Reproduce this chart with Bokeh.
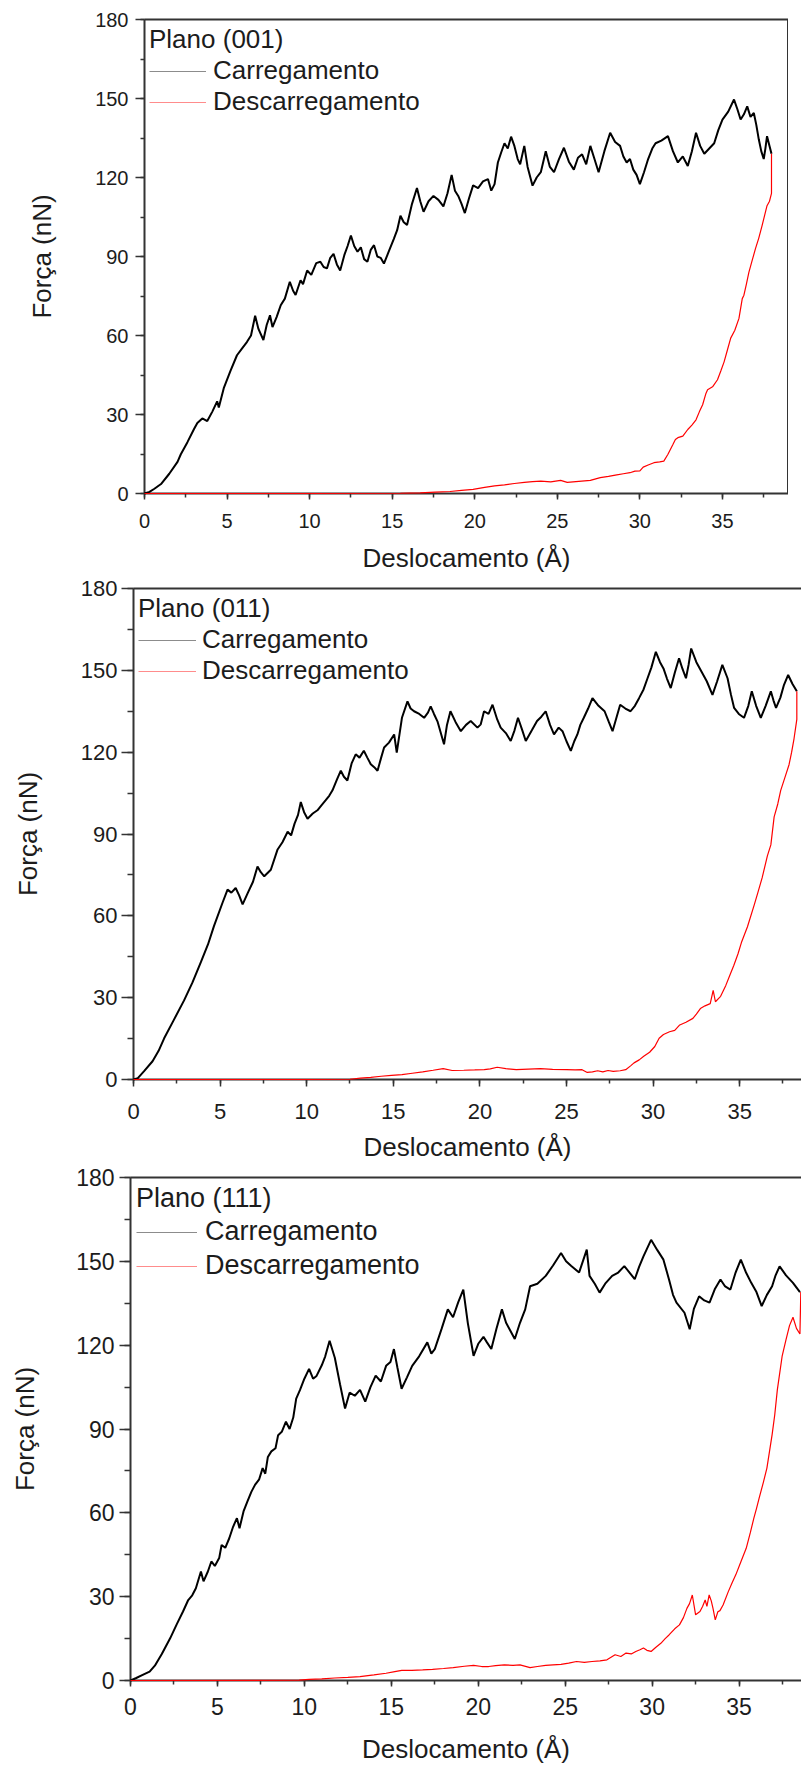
from bokeh.plotting import figure
from bokeh.models import (Legend, LegendItem, LinearAxis, SingleIntervalTicker,
                          FixedTicker, Range1d, Spacer)
from bokeh.layouts import column, row
from bokeh.embed import file_html
from bokeh.resources import INLINE

# ---------------- data: Plano (001) ----------------
x_load_001 = [0.0,0.3,0.6,1.0,1.5,2.0,2.2,2.6,3.0,3.2,
              3.5,3.8,4.1,4.4,4.5,4.8,5.2,5.6,5.9,6.2,
              6.45,6.7,6.9,7.2,7.4,7.6,7.75,8.0,8.25,8.5,
              8.8,9.0,9.15,9.45,9.6,9.85,10.1,10.4,10.65,10.85,
              11.05,11.25,11.45,11.65,11.85,12.1,12.3,12.5,12.7,12.9,
              13.1,13.3,13.5,13.7,13.9,14.1,14.3,14.5,14.8,15.1,
              15.3,15.5,15.7,15.9,16.2,16.5,16.7,16.9,17.2,17.5,
              17.8,18.1,18.35,18.6,18.8,19.0,19.2,19.4,19.65,19.9,
              20.2,20.5,20.8,21.0,21.2,21.4,21.6,21.8,22.0,22.2,
              22.4,22.6,22.75,23.0,23.2,23.5,23.75,24.0,24.3,24.55,
              24.8,25.1,25.4,25.7,26.0,26.25,26.5,26.75,27.0,27.25,
              27.5,27.85,28.2,28.5,28.8,29.0,29.2,29.4,29.6,29.8,
              30.0,30.25,30.5,30.75,30.95,31.3,31.7,32.0,32.3,32.6,
              32.9,33.15,33.4,33.65,33.9,34.2,34.5,34.75,35.0,35.35,
              35.7,35.9,36.1,36.3,36.5,36.7,36.9,37.05,37.2,37.35,
              37.5,37.6,37.7,37.85,37.97]
y_load_001 = [0.0,0.6,1.8,3.6,7.5,12.0,14.9,19.5,24.5,26.8,
              28.5,27.5,31.0,35.0,32.7,40.0,46.5,52.5,55.0,57.5,
              60.0,67.5,62.5,58.3,64.0,67.7,63.2,67.0,71.5,74.0,
              80.4,77.0,75.4,81.0,79.5,84.7,83.0,87.5,88.0,86.0,
              85.5,89.5,91.0,87.0,84.7,90.5,94.0,98.0,94.0,91.8,
              93.5,89.0,88.0,92.5,94.3,90.0,89.5,87.3,92.0,96.7,
              100.0,105.5,103.0,102.0,110.0,116.0,111.0,107.0,111.0,113.0,
              111.5,109.0,114.0,121.0,115.0,113.0,110.0,106.5,112.0,117.0,
              116.0,118.5,119.4,115.0,117.5,125.7,129.5,133.0,131.0,135.5,
              132.0,127.0,125.0,132.0,124.0,116.9,120.0,122.0,130.0,124.0,
              122.0,127.0,131.3,126.0,123.0,127.5,128.8,125.0,132.0,127.0,
              122.0,130.0,137.0,133.5,132.0,128.0,125.7,127.0,123.0,121.0,
              117.5,122.0,127.0,131.0,133.0,134.0,135.7,130.0,125.7,128.0,
              124.4,130.0,137.0,132.0,129.0,131.0,133.0,138.0,142.0,145.0,
              149.6,146.0,142.0,144.0,147.0,143.0,144.5,140.0,134.5,130.0,
              127.0,131.0,135.7,132.0,129.0]
x_unload_001 = [0.0,10.0,15.5,16.7,17.6,18.5,19.2,19.9,20.6,21.2,
                21.8,22.4,23.0,23.5,24.0,24.6,25.2,25.6,26.3,27.0,
                27.6,28.1,28.6,29.0,29.4,29.7,30.0,30.2,30.5,30.85,
                31.2,31.45,31.7,32.0,32.15,32.3,32.6,32.9,33.15,33.4,
                33.6,33.8,34.0,34.1,34.4,34.7,34.9,35.1,35.3,35.5,
                35.75,36.0,36.2,36.3,36.45,36.6,36.8,37.0,37.2,37.4,
                37.55,37.7,37.85,37.97,37.97]
y_unload_001 = [0.0,0.0,0.1,0.25,0.5,0.75,1.2,1.6,2.3,2.9,
                3.3,3.8,4.2,4.5,4.7,4.4,5.0,4.2,4.6,5.0,
                6.0,6.5,7.1,7.5,7.9,8.5,8.6,10.0,10.8,11.7,
                12.0,12.3,14.9,18.6,20.5,21.2,21.8,24.3,26.0,28.0,
                31.0,33.7,38.0,39.4,40.5,43.2,46.5,50.0,54.5,59.0,
                62.0,66.5,74.0,75.3,79.5,84.0,88.5,93.0,97.0,101.7,
                105.5,109.3,111.0,114.0,129.0]

# ---------------- data: Plano (011) ----------------
x_load_011 = [0.0,0.25,0.6,1.1,1.45,1.77,2.3,2.92,3.4,3.89,
              4.3,4.65,5.14,5.43,5.65,5.9,6.1,6.3,6.6,6.9,
              7.16,7.35,7.55,7.93,8.31,8.6,8.9,9.1,9.3,9.5,
              9.66,9.85,10.05,10.35,10.62,10.85,11.1,11.3,11.49,11.75,
              11.97,12.15,12.35,12.6,12.83,13.05,13.3,13.5,13.7,13.9,
              14.09,14.3,14.47,14.75,15.05,15.2,15.5,15.82,16.0,16.2,
              16.5,16.78,17.0,17.16,17.35,17.55,17.93,18.1,18.3,18.6,
              18.9,19.2,19.47,19.86,20.05,20.24,20.5,20.73,21.0,21.2,
              21.5,21.78,22.0,22.2,22.45,22.65,23.0,23.3,23.55,23.8,
              24.05,24.28,24.55,24.77,25.0,25.25,25.45,25.63,25.8,26.0,
              26.25,26.5,26.85,27.2,27.45,27.66,27.9,28.1,28.4,28.7,
              28.95,29.19,29.45,29.68,29.9,30.16,30.4,30.6,30.8,31.02,
              31.25,31.5,31.7,31.9,32.05,32.2,32.5,32.8,33.1,33.43,
              33.7,34.0,34.3,34.5,34.68,34.95,35.25,35.5,35.7,35.95,
              36.22,36.5,36.8,36.95,37.1,37.35,37.56,37.8,38.05,38.3]
y_load_011 = [0.0,0.5,3.0,6.7,10.5,15.1,21.5,29.0,35.5,43.0,
              49.5,56.3,64.8,69.6,68.5,70.2,67.5,64.2,68.4,72.5,
              78.1,76.0,74.5,76.9,84.2,87.0,90.8,89.5,93.8,97.0,
              101.7,98.0,95.6,97.5,98.7,100.5,102.4,104.0,106.0,110.0,
              113.2,111.0,109.6,116.0,119.2,118.0,120.5,118.0,115.6,114.5,
              113.2,118.0,121.7,123.5,126.5,119.8,132.6,138.6,136.0,135.0,
              134.0,132.6,134.5,136.8,134.0,131.3,122.9,130.0,135.0,131.0,
              127.7,130.0,131.4,129.0,130.2,135.0,134.0,137.4,132.0,129.0,
              127.0,124.1,128.0,132.6,128.0,124.1,128.0,131.4,133.0,135.0,
              130.0,126.5,129.0,127.7,124.0,120.5,124.0,126.5,130.0,132.6,
              136.0,139.8,137.0,135.0,131.0,127.7,133.0,137.4,136.0,135.0,
              137.0,139.8,143.0,147.1,151.0,156.8,153.0,150.7,147.0,143.5,
              149.0,154.4,150.5,147.1,152.0,158.0,153.0,149.5,146.0,141.0,
              146.0,152.0,147.1,141.0,136.2,134.0,132.6,137.0,142.3,137.0,
              132.6,137.0,142.3,139.0,136.2,140.0,144.7,148.3,145.0,142.3]
x_unload_011 = [0.0,10.0,12.5,13.1,13.7,14.3,14.9,15.5,16.1,16.7,
                17.3,17.88,18.4,19.07,19.7,20.25,20.6,21.0,21.5,22.1,
                22.8,23.5,24.2,25.0,25.5,25.9,26.2,26.5,26.8,27.1,
                27.4,27.7,28.1,28.42,28.7,28.9,29.2,29.46,29.8,30.1,
                30.35,30.6,30.95,31.25,31.54,31.9,32.3,32.5,32.73,33.0,
                33.3,33.47,33.6,33.9,34.2,34.45,34.66,34.9,35.1,35.45,
                35.85,36.05,36.3,36.6,36.8,36.99,37.2,37.37,37.6,37.85,
                38.0,38.14,38.3,38.3]
y_unload_011 = [0.0,0.0,0.1,0.5,0.8,1.2,1.5,1.8,2.3,2.8,
                3.4,4.0,3.3,3.4,3.5,3.6,3.9,4.5,4.0,3.6,
                3.8,4.0,3.7,3.6,3.5,3.6,2.6,2.8,3.2,2.8,
                3.3,3.0,3.2,3.6,5.0,6.1,7.2,8.5,10.0,12.1,
                15.1,16.5,17.5,18.0,20.0,21.0,22.4,24.0,26.0,27.0,
                27.8,32.7,28.5,30.5,34.5,38.5,41.8,46.0,50.2,56.0,
                64.2,68.5,74.0,82.0,86.0,96.3,101.0,106.0,110.5,115.4,
                120.0,125.0,132.0,142.3]

# ---------------- data: Plano (111) ----------------
x_load_111 = [0.0,0.3,0.7,1.1,1.4,1.8,2.28,2.65,3.02,3.32,
              3.55,3.76,4.05,4.2,4.45,4.65,4.85,5.1,5.24,5.45,
              5.68,5.9,6.12,6.27,6.5,6.72,6.95,7.16,7.4,7.6,
              7.75,7.9,8.1,8.34,8.49,8.7,8.94,9.15,9.36,9.53,
              9.75,10.0,10.27,10.5,10.7,11.0,11.2,11.45,11.75,12.05,
              12.34,12.6,12.9,13.2,13.5,13.8,14.1,14.4,14.7,14.95,
              15.15,15.35,15.59,15.9,16.2,16.6,17.07,17.3,17.5,17.9,
              18.25,18.55,18.85,19.14,19.4,19.73,20.0,20.3,20.5,20.75,
              21.05,21.36,21.6,21.8,22.1,22.4,22.7,22.98,23.4,23.88,
              24.3,24.76,25.05,25.35,25.8,26.24,26.4,26.7,26.98,27.3,
              27.7,28.05,28.4,28.7,29.0,29.25,29.5,29.94,30.3,30.65,
              30.97,31.2,31.4,31.86,32.16,32.4,32.7,33.0,33.3,33.6,
              33.93,34.2,34.5,34.8,35.1,35.4,35.7,36.0,36.3,36.6,
              36.9,37.1,37.33,37.7,38.1,38.5]
y_load_111 = [0.0,0.8,2.0,3.2,5.3,9.5,15.1,20.0,24.7,28.8,
              30.5,33.0,39.0,35.5,39.0,42.6,41.0,43.8,48.5,47.5,
              50.9,55.0,58.1,54.5,60.5,64.0,67.5,70.0,72.0,76.0,
              74.0,80.0,82.0,83.1,87.8,89.0,92.6,90.0,94.1,100.9,
              104.0,108.0,111.5,108.0,109.0,112.8,116.0,121.6,115.5,106.0,
              97.3,103.0,101.9,104.0,99.8,105.0,109.1,107.0,112.6,114.0,
              118.6,112.0,104.4,108.5,112.6,116.0,121.0,117.0,118.6,126.0,
              132.8,130.0,135.4,139.9,127.9,116.2,120.5,123.0,121.0,118.6,
              126.0,132.8,128.0,125.7,122.2,128.0,132.8,141.1,142.0,144.8,
              148.5,153.0,150.0,148.3,146.0,154.2,144.8,142.0,138.8,142.0,
              144.8,146.0,148.3,146.0,143.6,148.0,151.8,157.7,154.0,150.6,
              143.5,138.0,135.2,131.6,125.7,133.0,137.5,136.0,135.2,140.0,
              143.5,141.0,139.9,146.0,150.6,146.0,142.3,139.0,134.0,138.0,
              141.1,145.0,148.2,145.0,142.3,139.0]
x_unload_111 = [0.0,9.7,10.27,11.0,11.75,12.5,13.2,14.0,14.7,15.2,
                15.6,16.18,16.8,17.37,18.0,18.56,19.2,19.73,20.2,20.6,
                21.0,21.5,22.0,22.4,22.98,23.4,23.88,24.3,24.76,25.2,
                25.65,26.1,26.54,27.0,27.4,27.87,28.2,28.5,28.8,29.06,
                29.3,29.5,29.7,29.94,30.2,30.5,30.75,30.97,31.3,31.57,
                31.8,32.0,32.15,32.31,32.5,32.75,32.9,33.05,33.15,33.28,
                33.4,33.5,33.63,33.78,33.9,34.08,34.38,34.6,34.81,35.11,
                35.41,35.65,35.85,36.0,36.15,36.4,36.6,36.75,36.9,37.05,
                37.2,37.48,37.7,37.9,38.1,38.3,38.5,38.55]
y_unload_111 = [0.0,0.1,0.4,0.6,0.9,1.1,1.4,2.0,2.6,3.2,
                3.6,3.6,3.8,4.0,4.3,4.6,5.1,5.4,5.0,5.0,
                5.3,5.6,5.4,5.6,4.6,5.0,5.4,5.6,5.8,6.2,
                6.8,6.5,6.8,7.0,7.4,9.2,8.6,9.8,9.5,10.4,
                11.0,11.6,10.8,10.4,11.8,13.3,15.0,16.3,18.5,19.9,
                22.5,25.8,27.5,30.6,23.5,24.7,26.5,28.8,26.5,30.6,
                28.5,25.8,21.7,24.6,25.0,27.0,31.8,35.0,37.8,42.6,
                47.3,53.0,58.1,61.5,65.2,71.0,76.0,82.0,88.0,95.0,
                104.0,116.2,122.0,127.0,130.0,126.0,124.0,139.0]

plane_titles = ["Plano (001)", "Plano (011)", "Plano (111)"]
series_labels = ["Carregamento", "Descarregamento"]
x_label = "Deslocamento (Å)"
y_label = "Força (nN)"
y_ticks_interval = 30
x_ticks_interval = 5

FONT = "Liberation Sans"
TXT = "#1c1c1c"
AX = "#333333"

panels = [
    dict(title=plane_titles[0], xc=x_load_001, yc=y_load_001, xd=x_unload_001, yd=y_unload_001,
         lead=14, w=774, h=575, bt=19, bb=79, xmax=39.0, right_border=True,
         tick_fs="20px", lab_fs="26px", leg_fs="26px",
         ymaj=9, ymin=4, ystand=7, xmaj=6, xmin=4, xstand=14,
         ylab_stand=35, xlab_stand=12,
         leg_margin=5, glyph_w=57, leg_stand=7, leg_sp=-5, title_sp=-3),
    dict(title=plane_titles[1], xc=x_load_011, yc=y_load_011, xd=x_unload_011, yd=y_unload_011,
         lead=3, w=798, h=589, bt=13, bb=79, xmax=38.57, right_border=False,
         tick_fs="22px", lab_fs="26px", leg_fs="26px",
         ymaj=12, ymin=6, ystand=4, xmaj=7, xmin=4, xstand=17,
         ylab_stand=35, xlab_stand=10,
         leg_margin=5, glyph_w=58, leg_stand=6, leg_sp=-1, title_sp=0),
    dict(title=plane_titles[2], xc=x_load_111, yc=y_load_111, xd=x_unload_111, yd=y_unload_111,
         lead=0, w=801, h=602, bt=13, bb=82, xmax=38.59, right_border=False,
         tick_fs="23px", lab_fs="26px", leg_fs="27px",
         ymaj=11, ymin=6, ystand=5, xmaj=6, xmin=4, xstand=11,
         ylab_stand=33, xlab_stand=16,
         leg_margin=6, glyph_w=61, leg_stand=8, leg_sp=3, title_sp=2),
]


def style_axis(ax, maj, mn, stand, fs, lab_fs, lab_stand):
    ax.axis_line_color = AX
    ax.axis_line_width = 2
    ax.major_tick_line_color = AX
    ax.major_tick_line_width = 1.5
    ax.minor_tick_line_color = AX
    ax.minor_tick_line_width = 1.5
    ax.major_tick_in = 0
    ax.major_tick_out = maj
    ax.minor_tick_in = 0
    ax.minor_tick_out = mn
    ax.major_label_standoff = stand
    ax.major_label_text_font = FONT
    ax.major_label_text_font_size = fs
    ax.major_label_text_color = TXT
    ax.axis_label_text_font = FONT
    ax.axis_label_text_font_size = lab_fs
    ax.axis_label_text_font_style = "normal"
    ax.axis_label_text_color = TXT
    ax.axis_label_standoff = lab_stand


def border_axis(p, side, width=2):
    a = LinearAxis(ticker=FixedTicker(ticks=[]), axis_line_color=AX, axis_line_width=width,
                   major_tick_line_color=None, minor_tick_line_color=None,
                   major_tick_in=0, major_tick_out=0, minor_tick_in=0, minor_tick_out=0,
                   major_label_standoff=0)
    p.add_layout(a, side)


NAN = float("nan")
rows = []
for c in panels:
    assert len(c["xc"]) == len(c["yc"]) and len(c["xd"]) == len(c["yd"])
    p = figure(width=c["w"], height=c["h"], x_range=Range1d(0, c["xmax"]),
               y_range=Range1d(0, 180), output_backend="svg", toolbar_location=None,
               min_border_left=130, min_border_right=0,
               min_border_top=c["bt"], min_border_bottom=c["bb"],
               background_fill_color="white", border_fill_color="white",
               outline_line_color=None)
    p.xgrid.visible = False
    p.ygrid.visible = False
    p.xaxis.ticker = SingleIntervalTicker(interval=x_ticks_interval, num_minor_ticks=2)
    p.yaxis.ticker = SingleIntervalTicker(interval=y_ticks_interval, num_minor_ticks=2)
    p.xaxis.axis_label = x_label
    p.yaxis.axis_label = y_label
    style_axis(p.xaxis[0], c["xmaj"], c["xmin"], c["xstand"], c["tick_fs"], c["lab_fs"], c["xlab_stand"])
    style_axis(p.yaxis[0], c["ymaj"], c["ymin"], c["ystand"], c["tick_fs"], c["lab_fs"], c["ylab_stand"])
    border_axis(p, "above")
    if c["right_border"]:
        border_axis(p, "right", width=3)

    p.line(c["xc"], c["yc"], line_color="black", line_width=2.0, level="overlay")
    p.line(c["xd"], c["yd"], line_color="#ff0000", line_width=1.2, level="overlay")

    # legend samples (thin, lighter as in the reference); single NaN point draws nothing
    lc = p.line([NAN], [NAN], line_color="#8c8c8c", line_width=1.2)
    ld = p.line([NAN], [NAN], line_color="#ff8c8c", line_width=1.2)
    lg = Legend(items=[LegendItem(label=series_labels[0], renderers=[lc]),
                       LegendItem(label=series_labels[1], renderers=[ld])],
                location="top_left", title=c["title"],
                title_text_font=FONT, title_text_font_size=c["leg_fs"],
                title_text_font_style="normal", title_text_color=TXT,
                title_standoff=c["title_sp"],
                label_text_font=FONT, label_text_font_size=c["leg_fs"], label_text_color=TXT,
                glyph_width=c["glyph_w"], glyph_height=20, label_standoff=c["leg_stand"],
                spacing=c["leg_sp"], padding=0, margin=c["leg_margin"],
                border_line_color=None, background_fill_alpha=0)
    p.add_layout(lg)
    if c["lead"] > 0:
        rows.append(row(Spacer(width=c["lead"], height=c["h"]), p, spacing=0))
    else:
        rows.append(row(p, spacing=0))

layout = column(*rows, spacing=0)
open("out.html", "w").write(file_html(layout, INLINE))
